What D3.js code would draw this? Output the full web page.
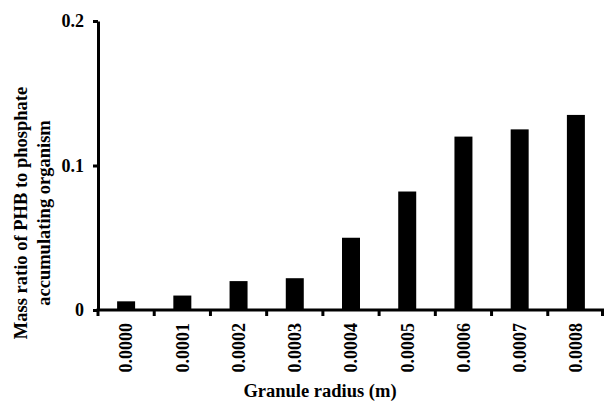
<!DOCTYPE html>
<html>
<head>
<meta charset="utf-8">
<script src="https://cdn.jsdelivr.net/npm/d3@7"></script>
<style>
  body { margin: 0; background: #fff; }
  svg text { font-family: 'Liberation Serif', serif; font-weight: 700; }
</style>
</head>
<body>
<div id="d3-container"></div>
<script>
// data
const radii = ["0.0000", "0.0001", "0.0002", "0.0003", "0.0004", "0.0005", "0.0006", "0.0007", "0.0008"];
const massRatio = [0.006, 0.010, 0.020, 0.022, 0.050, 0.082, 0.120, 0.125, 0.135];
const yTicks = [0, 0.1, 0.2];
const yTickLabels = ["0", "0.1", "0.2"];

let margin = { top: 21, left: 98, right: 2, bottom: 95 },
  width = 606 - margin.left - margin.right,
  height = 405 - margin.top - margin.bottom;

let svg1 = d3.select('#d3-container')
  .append('svg')
  .attr('width', 606)
  .attr('height', 405);

let g = svg1.append("g")
  .attr("transform", `translate(${margin.left},${margin.top})`);

const xScale = d3.scaleBand()
  .domain(radii)
  .range([0, width])
  .paddingInner(0.68)
  .paddingOuter(0.34);

// band edges for the excel-style ticks between categories
const step = width / radii.length;

const yScale = d3.scaleLinear()
  .domain([0, 0.2])
  .range([height, 0]);

// bars
g.selectAll(".bar")
  .data(radii)
  .enter().append("rect")
  .attr("class", "bar")
  .attr("x", d => xScale(d))
  .attr("y", (d, i) => yScale(massRatio[i]))
  .attr("width", xScale.bandwidth())
  .attr("height", (d, i) => height - yScale(massRatio[i]))
  .attr("fill", "#000");

// y axis
let yAxis = g.append("g")
  .call(d3.axisLeft(yScale)
    .tickValues(yTicks)
    .tickFormat((d, i) => yTickLabels[i])
    .tickSize(5)
    .tickSizeOuter(0)
    .tickPadding(9));
yAxis.attr("font-family", null);
yAxis.select(".domain").attr("stroke-width", 3);
yAxis.selectAll(".tick line").attr("stroke-width", 3);
yAxis.selectAll("text").attr("font-size", 18).attr("fill", "#000");

// x axis labels
let xAxis = g.append("g")
  .attr("transform", `translate(0, ${height})`)
  .call(d3.axisBottom(xScale).tickSize(0).tickPadding(0));
xAxis.attr("font-family", null);
xAxis.select(".domain").remove();
xAxis.selectAll("text")
  .attr("font-size", 18)
  .attr("fill", "#000")
  .attr("transform", "rotate(-90)")
  .attr("text-anchor", "end")
  .attr("x", -13)
  .attr("y", 0)
  .attr("dy", "0.35em");

// x axis line + ticks at category edges
g.append("line")
  .attr("x1", -1.5).attr("x2", width)
  .attr("y1", height).attr("y2", height)
  .attr("stroke", "#000").attr("stroke-width", 3);

g.selectAll(".xedge")
  .data(d3.range(radii.length + 1))
  .enter().append("line")
  .attr("class", "xedge")
  .attr("x1", d => Math.min(d * step, width - 1.5))
  .attr("x2", d => Math.min(d * step, width - 1.5))
  .attr("y1", height).attr("y2", height + 6)
  .attr("stroke", "#000").attr("stroke-width", 3);

// axis titles
svg1.append("text")
  .attr("x", 320)
  .attr("y", 397)
  .attr("text-anchor", "middle")
  .attr("font-size", 18.5)
  .text("Granule radius (m)");

let yTitle = svg1.append("text")
  .attr("transform", "translate(0,213) rotate(-90)")
  .attr("text-anchor", "middle")
  .attr("font-size", 18.5);
yTitle.append("tspan").attr("x", 0).attr("y", 27).text("Mass ratio of PHB to phosphate");
yTitle.append("tspan").attr("x", 0).attr("y", 50).text("accumulating organism");
</script>
</body>
</html>
